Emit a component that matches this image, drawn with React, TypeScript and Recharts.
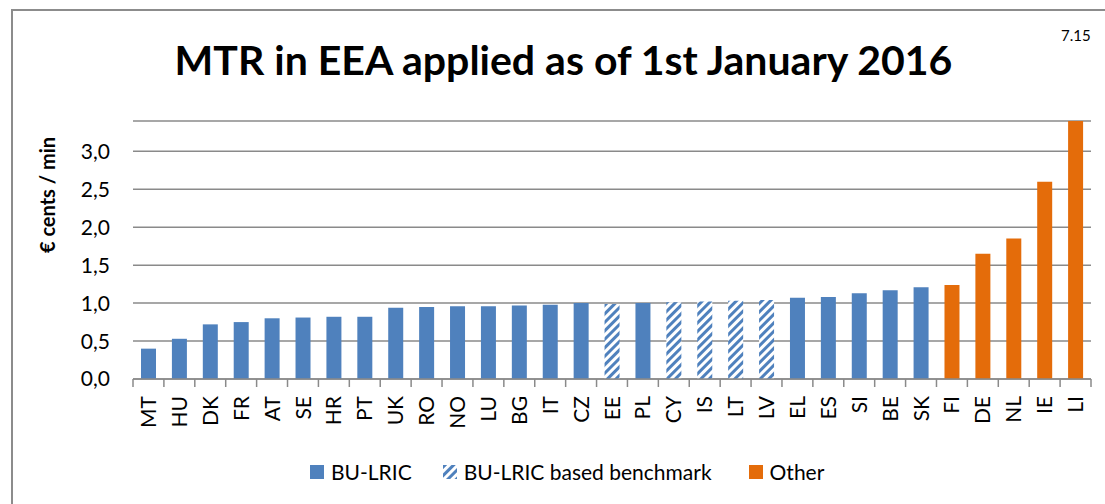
import { BarChart, Bar, XAxis, YAxis, CartesianGrid, Cell } from "recharts";

const countries = [
  "MT", "HU", "DK", "FR", "AT", "SE", "HR", "PT", "UK", "RO", "NO", "LU", "BG", "IT", "CZ", "EE",
  "PL", "CY", "IS", "LT", "LV", "EL", "ES", "SI", "BE", "SK", "FI", "DE", "NL", "IE", "LI",
];
const rates = [
  0.40, 0.53, 0.72, 0.75, 0.80, 0.81, 0.82, 0.82, 0.94, 0.95, 0.96, 0.96, 0.97, 0.98, 1.00, 0.99,
  1.00, 1.01, 1.02, 1.03, 1.04, 1.07, 1.08, 1.13, 1.17, 1.21, 1.24, 1.65, 1.85, 2.60, 3.40,
];
// "lric" = BU-LRIC, "bench" = BU-LRIC based benchmark, "other" = Other
const methods = [
  "lric", "lric", "lric", "lric", "lric", "lric", "lric", "lric", "lric", "lric", "lric", "lric", "lric", "lric", "lric", "bench",
  "lric", "bench", "bench", "bench", "bench", "lric", "lric", "lric", "lric", "lric", "other", "other", "other", "other", "other",
];
const yTicks = [0, 0.5, 1, 1.5, 2, 2.5, 3];

const legendItems = [
  { key: "lric", label: "BU-LRIC" },
  { key: "bench", label: "BU-LRIC based benchmark" },
  { key: "other", label: "Other" },
];

const BLUE = "#4f81bd";
const ORANGE = "#e46c0a";
const GRID = "#8a8a8a";
const FONT = "Lato, 'Liberation Sans', sans-serif";

const W = 1105;
const H = 504;
const margin = { top: 121, right: 14, bottom: 25, left: 73 };
const Y_AXIS_W = 60;
const plotW = W - margin.left - Y_AXIS_W - margin.right;
const step = plotW / countries.length;

const fillFor = (m: string) => (m === "other" ? ORANGE : m === "bench" ? "url(#hatch)" : BLUE);

const data = countries.map((c, i) => ({ country: c, rate: rates[i], method: methods[i] }));

function CountryTick(props: any) {
  const { x, y, payload, index } = props;
  const left = x - step / 2;
  const right = x + step / 2;
  return (
    <g>
      <line x1={left} y1={y} x2={left} y2={y + 8} stroke={GRID} strokeWidth={1.5} />
      {index === countries.length - 1 && (
        <line x1={right} y1={y} x2={right} y2={y + 8} stroke={GRID} strokeWidth={1.5} />
      )}
      <text
        x={x}
        y={y + 17}
        transform={`rotate(-90, ${x}, ${y + 17})`}
        textAnchor="end"
        dy="0.36em"
        fontSize={21}
        fontFamily={FONT}
        fill="#000"
      >
        {payload.value}
      </text>
    </g>
  );
}

const legendGaps = [0, 31, 37];

function LegendBox() {
  return (
    <div style={{ display: "flex", alignItems: "center", fontFamily: FONT, fontSize: 21, color: "#000" }}>
      {legendItems.map((it, i) => (
        <div key={it.key} style={{ display: "flex", alignItems: "center", marginLeft: legendGaps[i] }}>
          <svg width={14} height={14} style={{ marginRight: 7 }}>
            <defs>
              <pattern id={`lg-hatch-${i}`} width={6} height={6} patternUnits="userSpaceOnUse" patternTransform="rotate(45)">
                <rect width={6} height={6} fill="#fff" />
                <rect width={3} height={6} fill={BLUE} />
              </pattern>
            </defs>
            <rect width={14} height={14} fill={it.key === "bench" ? `url(#lg-hatch-${i})` : fillFor(it.key)} />
          </svg>
          <span>{it.label}</span>
        </div>
      ))}
    </div>
  );
}

export default function App() {
  return (
    <div style={{ position: "fixed", left: 0, top: 0, width: W, height: H, background: "#fff", overflow: "hidden" }}>
      <div
        style={{
          position: "absolute", left: 11, top: 9, width: 1200, height: 600,
          borderLeft: "2px solid #8c8c8c", borderTop: "2px solid #8c8c8c",
        }}
      />
      <div
        style={{
          position: "absolute", left: 11, width: W, top: 35, textAlign: "center",
          fontFamily: FONT, fontWeight: 700, fontSize: 41, color: "#000",
        }}
      >
        MTR in EEA applied as of 1st January 2016
      </div>
      <div style={{ position: "absolute", left: 1061, top: 26, fontFamily: FONT, fontSize: 15, color: "#000" }}>
        7.15
      </div>
      <div
        style={{
          position: "absolute", left: 47, top: 195, transform: "translate(-50%, -50%) rotate(-90deg)",
          whiteSpace: "nowrap", fontFamily: FONT, fontWeight: 700, fontSize: 20, color: "#000",
        }}
      >
        € cents / min
      </div>
      <div style={{ position: "absolute", left: 0, top: 0 }}>
        <BarChart width={W} height={H} data={data} margin={margin}>
          <defs>
            <pattern id="hatch" width={6} height={6} patternUnits="userSpaceOnUse" patternTransform="rotate(45)">
              <rect width={6} height={6} fill="#fff" />
              <rect width={3} height={6} fill={BLUE} />
            </pattern>
          </defs>
          <CartesianGrid vertical={false} stroke={GRID} strokeWidth={1.5} />
          <XAxis
            dataKey="country"
            interval={0}
            height={100}
            tickLine={false}
            tickSize={0}
            tickMargin={0}
            axisLine={{ stroke: GRID, strokeWidth: 1.5 }}
            tick={<CountryTick />}
          />
          <YAxis
            width={Y_AXIS_W}
            domain={[0, 3.4]}
            ticks={yTicks}
            allowDataOverflow
            axisLine={false}
            tickLine={false}
            tickSize={0}
            tickMargin={23}
            tickFormatter={(v: number) => v.toFixed(1).replace(".", ",")}
            tick={{ fontSize: 21, fontFamily: FONT, fill: "#000" }}
          />
          <Bar dataKey="rate" barSize={15} isAnimationActive={false}>
            {data.map((d) => (
              <Cell key={d.country} fill={fillFor(d.method)} />
            ))}
          </Bar>
        </BarChart>
      </div>
      <div style={{ position: "absolute", left: 310, top: 459 }}>
        <LegendBox />
      </div>
    </div>
  );
}
